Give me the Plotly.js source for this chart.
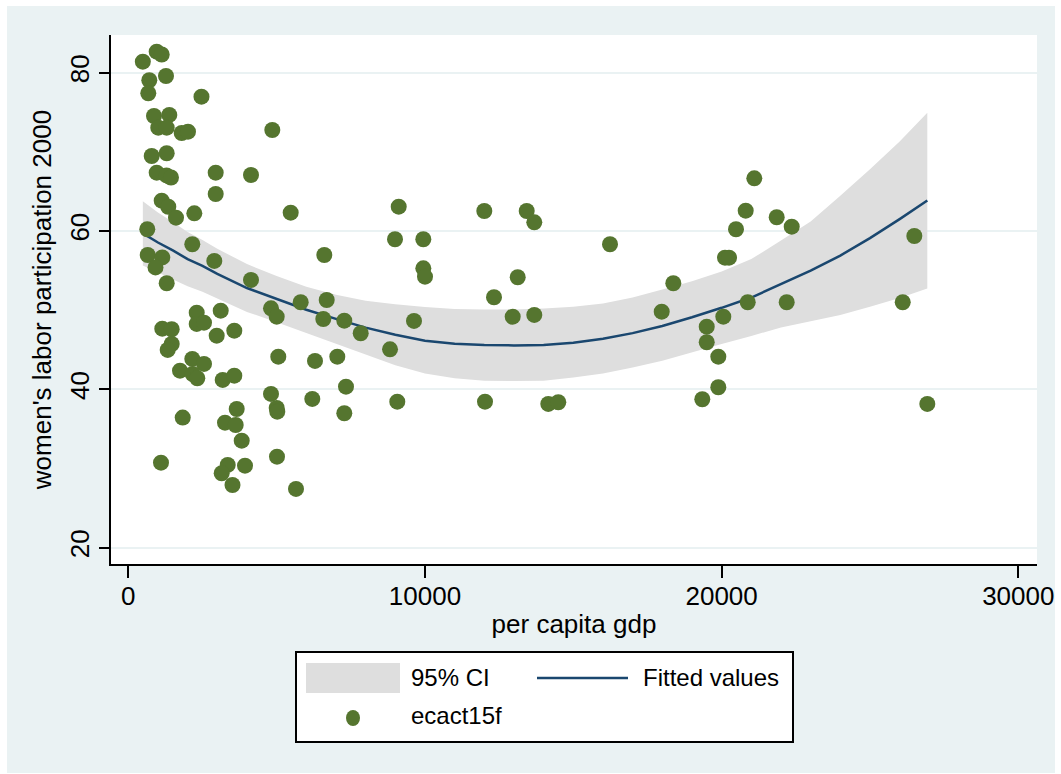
<!DOCTYPE html>
<html>
<head>
<meta charset="utf-8">
<script src="https://cdn.plot.ly/plotly-3.0.1.min.js"></script>
<style>
  html, body { margin: 0; padding: 0; background: #ffffff; }
  #chart { position: absolute; left: 7px; top: 6px; width: 1048px; height: 767px; }
</style>
</head>
<body>
<div id="chart"></div>
<script>
// ---- data ----
const gdp = [490, 957, 1126, 708, 1271, 674, 2467, 866, 1382, 1011,
  1294, 1800, 2012, 4854, 789, 1294, 957, 1288, 1439, 2946,
  4136, 2946, 1126, 1348, 1608, 2225, 5474, 640, 2157, 654,
  1146, 917, 2899, 6607, 1294, 4136, 2306, 3115, 2306, 2552,
  1146, 1463, 2980, 3573, 1463, 1328, 4810, 5002, 5811, 6688,
  6573, 7281, 5056, 6293, 7045, 2157, 2552, 1743, 2171, 2326,
  3182, 3573, 4810, 5002, 5022, 6202, 7338, 7281, 1834, 3654,
  3260, 3620, 3823, 1102, 3351, 3148, 3934, 3512, 5012, 5653,
  9115, 8990, 9944, 9944, 10001, 12000, 13429, 13685, 16237, 13126,
  12327, 12957, 13685, 7834, 9630, 8822, 9067, 12024, 14157, 14494,
  21101, 20811, 20484, 21856, 22362, 20114, 20249, 18371, 17980, 20879,
  22193, 20056, 19497, 19497, 19888, 19888, 19348, 26495, 26104, 26933];

const ecact15f = [81.39, 82.65, 82.30, 79.04, 79.58, 77.40, 76.97, 74.53, 74.66, 73.05,
  73.05, 72.38, 72.55, 72.76, 69.48, 69.82, 67.37, 67.02, 66.76, 67.37,
  67.08, 64.68, 63.83, 63.07, 61.69, 62.24, 62.32, 60.22, 58.33, 56.97,
  56.66, 55.40, 56.22, 56.97, 53.40, 53.82, 49.69, 49.94, 48.26, 48.42,
  47.67, 47.59, 46.78, 47.41, 45.73, 44.98, 50.24, 49.18, 51.00, 51.29,
  48.89, 48.68, 44.13, 43.59, 44.13, 43.84, 43.21, 42.36, 41.94, 41.40,
  41.19, 41.73, 39.42, 37.65, 37.18, 38.79, 40.34, 36.98, 36.43, 37.52,
  35.79, 35.50, 33.52, 30.74, 30.45, 29.40, 30.36, 27.92, 31.50, 27.42,
  63.08, 58.96, 58.96, 55.29, 54.23, 62.53, 62.53, 61.10, 58.33, 54.16,
  51.63, 49.18, 49.40, 47.09, 48.64, 45.06, 38.45, 38.45, 38.16, 38.37,
  66.66, 62.57, 60.22, 61.74, 60.55, 56.63, 56.63, 53.40, 49.81, 51.00,
  51.00, 49.18, 47.92, 45.95, 44.13, 40.27, 38.75, 59.37, 51.00, 38.16];

const fitX = [490, 1000, 1500, 2000, 2500, 3000, 4000, 5000, 6000, 7000,
  8000, 9000, 10000, 11000, 12000, 13000, 14000, 15000, 16000, 17000,
  18000, 19000, 20000, 21000, 22000, 23000, 24000, 25000, 26000, 26933];
const fitY = [59.7, 58.55, 57.55, 56.45, 55.6, 54.6, 52.8, 51.4, 50.05, 48.9,
  47.8, 46.9, 46.15, 45.75, 45.6, 45.55, 45.6, 45.9, 46.4, 47.1,
  48.0, 49.1, 50.3, 51.6, 53.3, 55.0, 56.9, 59.1, 61.5, 63.85];
const ciLow = [55.65, 54.75, 53.95, 53.03, 52.32, 51.44, 49.78, 48.48, 47.13, 45.85,
  44.5, 43.05, 42.0, 41.4, 41.1, 41.05, 41.1, 41.5, 42.0, 42.75,
  43.6, 44.7, 45.72, 46.75, 47.8, 48.6, 49.4, 50.45, 51.55, 52.75];
const ciHigh = [63.75, 62.35, 61.15, 59.87, 58.88, 57.76, 55.82, 54.32, 52.97, 51.95,
  51.2, 50.75, 50.4, 50.15, 50.1, 50.1, 50.2, 50.45, 50.85, 51.6,
  52.6, 53.65, 54.88, 56.45, 58.8, 61.2, 64.45, 67.8, 71.3, 74.95];

const xTicks = [0, 10000, 20000, 30000];
const xTickText = ["0", "10000", "20000", "30000"];
const yTicks = [20, 40, 60, 80];
const yTickText = ["20", "40", "60", "80"];

const legendLabels = ["95% CI", "Fitted values", "ecact15f"];

// ---- styles ----
const FONT = "Liberation Sans, Arial, Helvetica, sans-serif";
const BG = "#eaf2f3";
const CI_COLOR = "#dedede";
const LINE_COLOR = "#1a476f";
const DOT_COLOR = "#55752f";

const traces = [
  { x: fitX, y: ciLow, type: "scatter", mode: "lines",
    line: { width: 0, color: CI_COLOR }, hoverinfo: "skip", showlegend: false },
  { x: fitX, y: ciHigh, type: "scatter", mode: "lines", fill: "tonexty",
    fillcolor: CI_COLOR, line: { width: 0, color: CI_COLOR }, name: legendLabels[0], showlegend: false },
  { x: fitX, y: fitY, type: "scatter", mode: "lines",
    line: { width: 2.5, color: LINE_COLOR }, name: legendLabels[1], showlegend: false },
  { x: gdp, y: ecact15f, type: "scatter", mode: "markers",
    marker: { size: 16, color: DOT_COLOR, line: { width: 0 } }, name: legendLabels[2], showlegend: false }
];

// plot-area geometry (page pixels) for the hand-drawn Stata-style legend
const PL = 111, PW = 926, PB = 564, PH = 529;
const px = v => (v - PL) / PW;
const py = v => (PB - v) / PH;

const shapes = [
  { type: "rect", xref: "paper", yref: "paper", x0: px(296), x1: px(793), y0: py(742), y1: py(652),
    fillcolor: "#ffffff", line: { color: "#000000", width: 2 } },
  { type: "rect", xref: "paper", yref: "paper", x0: px(306), x1: px(400), y0: py(693), y1: py(663),
    fillcolor: CI_COLOR, line: { width: 0 } },
  { type: "line", xref: "paper", yref: "paper", x0: px(537), x1: px(628), y0: py(678), y1: py(678),
    line: { color: LINE_COLOR, width: 2.5 } },
  { type: "circle", xref: "paper", yref: "paper", x0: px(346), x1: px(360), y0: py(726), y1: py(710),
    fillcolor: DOT_COLOR, line: { width: 0 } }
];

const annotations = [
  { text: legendLabels[0], x: px(409), y: py(677), xref: "paper", yref: "paper",
    xanchor: "left", yanchor: "middle", showarrow: false, font: { family: FONT, size: 24, color: "#000" } },
  { text: legendLabels[1], x: px(641), y: py(677), xref: "paper", yref: "paper",
    xanchor: "left", yanchor: "middle", showarrow: false, font: { family: FONT, size: 24, color: "#000" } },
  { text: legendLabels[2], x: px(409), y: py(715), xref: "paper", yref: "paper",
    xanchor: "left", yanchor: "middle", showarrow: false, font: { family: FONT, size: 24, color: "#000" } }
];

const layout = {
  width: 1048, height: 767,
  margin: { l: 104, r: 18, t: 29, b: 209, pad: 0 },
  paper_bgcolor: BG,
  plot_bgcolor: "#ffffff",
  font: { family: FONT, size: 26, color: "#000000" },
  showlegend: false,
  xaxis: {
    range: [-583, 30630], autorange: false,
    tickmode: "array", tickvals: xTicks, ticktext: xTickText,
    ticks: "outside", ticklen: 12, tickwidth: 2, tickcolor: "#000",
    ticklabelstandoff: -4,
    showline: true, linecolor: "#000", linewidth: 2, mirror: false,
    showgrid: false, zeroline: false,
    tickfont: { family: FONT, size: 26 },
    title: { text: "per capita gdp", font: { family: FONT, size: 26 }, standoff: 5 },
    automargin: false
  },
  yaxis: {
    range: [17.94, 84.76], autorange: false,
    tickmode: "array", tickvals: yTicks, ticktext: yTickText, tickangle: -90,
    ticks: "outside", ticklen: 10, tickwidth: 2, tickcolor: "#000",
    showline: true, linecolor: "#000", linewidth: 2, mirror: false,
    showgrid: true, gridcolor: BG, gridwidth: 2, zeroline: false,
    tickfont: { family: FONT, size: 26 },
    title: { text: "women's labor participation 2000", font: { family: FONT, size: 26 }, standoff: 5 },
    automargin: false
  },
  shapes: shapes,
  annotations: annotations
};

Plotly.newPlot("chart", traces, layout, { staticPlot: true, displayModeBar: false });
</script>
</body>
</html>
